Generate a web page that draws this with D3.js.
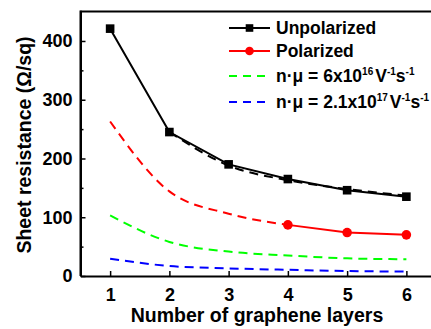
<!DOCTYPE html>
<html><head><meta charset="utf-8">
<script src="https://cdn.jsdelivr.net/npm/d3@7"></script>
<style>body{margin:0;background:#fff;} svg{display:block;font-family:Arial,"Liberation Sans",sans-serif;font-weight:bold;}</style>
</head><body>
<script>
const layers = [1, 2, 3, 4, 5, 6];
const unpolarized = [421, 245, 190, 165, 146, 135];
const unpolarizedFit = [null, 245, 188, 163, 148, 137];
const polarizedLayers = [4, 5, 6];
const polarized = [87, 74, 70];
const polarizedFit = [263, 144, 106, 87];
const mu6e16 = [103, 58, 41.5, 35, 30, 28.5];
const mu21e17 = [29.5, 17, 13, 10.5, 8.5, 7.5];
const yTicks = [0, 100, 200, 300, 400];
const yMinorTicks = [50, 150, 250, 350];

const W = 431, H = 329;
const svg = d3.select("body").append("svg").attr("width", W).attr("height", H);
const x = d3.scaleLinear().domain([0.5, 6.5]).range([80.5, 436]);
const y = d3.scaleLinear().domain([0, 450]).range([276, 11.6]);

// axes
const gx = svg.append("g").attr("transform", `translate(0,${y(0)})`)
  .call(d3.axisBottom(x).tickValues(layers).tickFormat(d3.format("d")).tickSizeInner(-5).tickSizeOuter(0).tickPadding(12));
const gy = svg.append("g").attr("transform", `translate(${x(0.5)},0)`)
  .call(d3.axisLeft(y).tickValues(yTicks).tickSizeInner(-5).tickSizeOuter(0).tickPadding(8));
svg.append("g").attr("transform", `translate(${x(0.5)},0)`)
  .call(d3.axisLeft(y).tickValues(yMinorTicks).tickFormat("").tickSizeInner(-3).tickSizeOuter(0))
  .select(".domain").remove();
[gx, gy].forEach(g => {
  g.select(".domain").attr("stroke", "#000").attr("stroke-width", 2);
  g.selectAll(".tick line").attr("stroke", "#000").attr("stroke-width", 1.5);
  g.selectAll(".tick text").attr("font-size", 18).attr("font-weight", "bold").attr("font-family", "Arial, 'Liberation Sans', sans-serif").attr("fill", "#000");
});
svg.selectAll("g .tick line").attr("stroke-width", 1.5);
// top frame
svg.append("line").attr("x1", x(0.5)).attr("x2", W).attr("y1", y(450)).attr("y2", y(450)).attr("stroke", "#000").attr("stroke-width", 2);
svg.append("line").attr("x1", x(0.5)).attr("x2", x(0.5)).attr("y1", y(450) - 1).attr("y2", y(0)).attr("stroke", "#000").attr("stroke-width", 2);

const lineStraight = d3.line().defined(d => d[1] != null).x(d => x(d[0])).y(d => y(d[1]));
const lineCurve = d3.line().defined(d => d[1] != null).x(d => x(d[0])).y(d => y(d[1])).curve(d3.curveMonotoneX);
const pairs = (xs, ys) => ys.map((v, i) => [xs[i], v]);

svg.append("path").attr("d", lineCurve(pairs(layers, mu21e17))).attr("fill", "none").attr("stroke", "#0000ff").attr("stroke-width", 2).attr("stroke-dasharray", "9,6");
svg.append("path").attr("d", lineCurve(pairs(layers, mu6e16))).attr("fill", "none").attr("stroke", "#00ff00").attr("stroke-width", 2).attr("stroke-dasharray", "9,6");
svg.append("path").attr("d", lineCurve(pairs(layers, polarizedFit))).attr("fill", "none").attr("stroke", "#ff0000").attr("stroke-width", 2).attr("stroke-dasharray", "9,6");
svg.append("path").attr("d", lineCurve(pairs(layers, unpolarizedFit))).attr("fill", "none").attr("stroke", "#000").attr("stroke-width", 2).attr("stroke-dasharray", "9,6");

svg.append("path").attr("d", lineStraight(pairs(polarizedLayers, polarized))).attr("fill", "none").attr("stroke", "#ff0000").attr("stroke-width", 2);
svg.selectAll("circle.pol").data(pairs(polarizedLayers, polarized)).enter().append("circle")
  .attr("cx", d => x(d[0])).attr("cy", d => y(d[1])).attr("r", 4.8).attr("fill", "#ff0000");

svg.append("path").attr("d", lineStraight(pairs(layers, unpolarized))).attr("fill", "none").attr("stroke", "#000").attr("stroke-width", 2);
svg.selectAll("rect.unp").data(pairs(layers, unpolarized)).enter().append("rect")
  .attr("x", d => x(d[0]) - 4.3).attr("y", d => y(d[1]) - 4.3).attr("width", 8.6).attr("height", 8.6).attr("fill", "#000");

// legend
const lx0 = 229, lx1 = 270, tx = 276;
const rows = [28, 51, 76, 102];
const lg = svg.append("g");
lg.append("line").attr("x1", lx0).attr("x2", lx1).attr("y1", rows[0]).attr("y2", rows[0]).attr("stroke", "#000").attr("stroke-width", 2);
lg.append("rect").attr("x", 249.5 - 3.8).attr("y", rows[0] - 3.8).attr("width", 7.6).attr("height", 7.6).attr("fill", "#000");
lg.append("line").attr("x1", lx0).attr("x2", lx1).attr("y1", rows[1]).attr("y2", rows[1]).attr("stroke", "#ff0000").attr("stroke-width", 2);
lg.append("circle").attr("cx", 249.5).attr("cy", rows[1]).attr("r", 4.3).attr("fill", "#ff0000");
lg.append("line").attr("x1", lx0).attr("x2", lx1).attr("y1", rows[2]).attr("y2", rows[2]).attr("stroke", "#00ff00").attr("stroke-width", 2).attr("stroke-dasharray", "8,6");
lg.append("line").attr("x1", lx0).attr("x2", lx1).attr("y1", rows[3]).attr("y2", rows[3]).attr("stroke", "#0000ff").attr("stroke-width", 2).attr("stroke-dasharray", "8,6");

const fs = 17.5;
lg.append("text").attr("x", tx).attr("y", rows[0] + 6).attr("font-size", fs).text("Unpolarized");
lg.append("text").attr("x", tx).attr("y", rows[1] + 6).attr("font-size", fs).text("Polarized");
function muText(yy, base, exp) {
  const t = lg.append("text").attr("x", tx).attr("y", yy + 6).attr("font-size", fs);
  t.append("tspan").text("n·μ = " + base);
  t.append("tspan").attr("font-size", 10).attr("dy", -7).text(exp);
  t.append("tspan").attr("dy", 7).attr("dx", 2).text("V");
  t.append("tspan").attr("font-size", 10).attr("dy", -7).text("-1");
  t.append("tspan").attr("dy", 7).text("s");
  t.append("tspan").attr("font-size", 10).attr("dy", -7).text("-1");
}
muText(rows[2], "6x10", "16");
muText(rows[3], "2.1x10", "17");

// titles
svg.append("text").attr("x", 257).attr("y", 322).attr("text-anchor", "middle").attr("font-size", 19.5).text("Number of graphene layers");
svg.append("text").attr("transform", "translate(31,145) rotate(-90)").attr("text-anchor", "middle").attr("font-size", 19.5).text("Sheet resistance (Ω/sq)");
</script>
</body></html>
